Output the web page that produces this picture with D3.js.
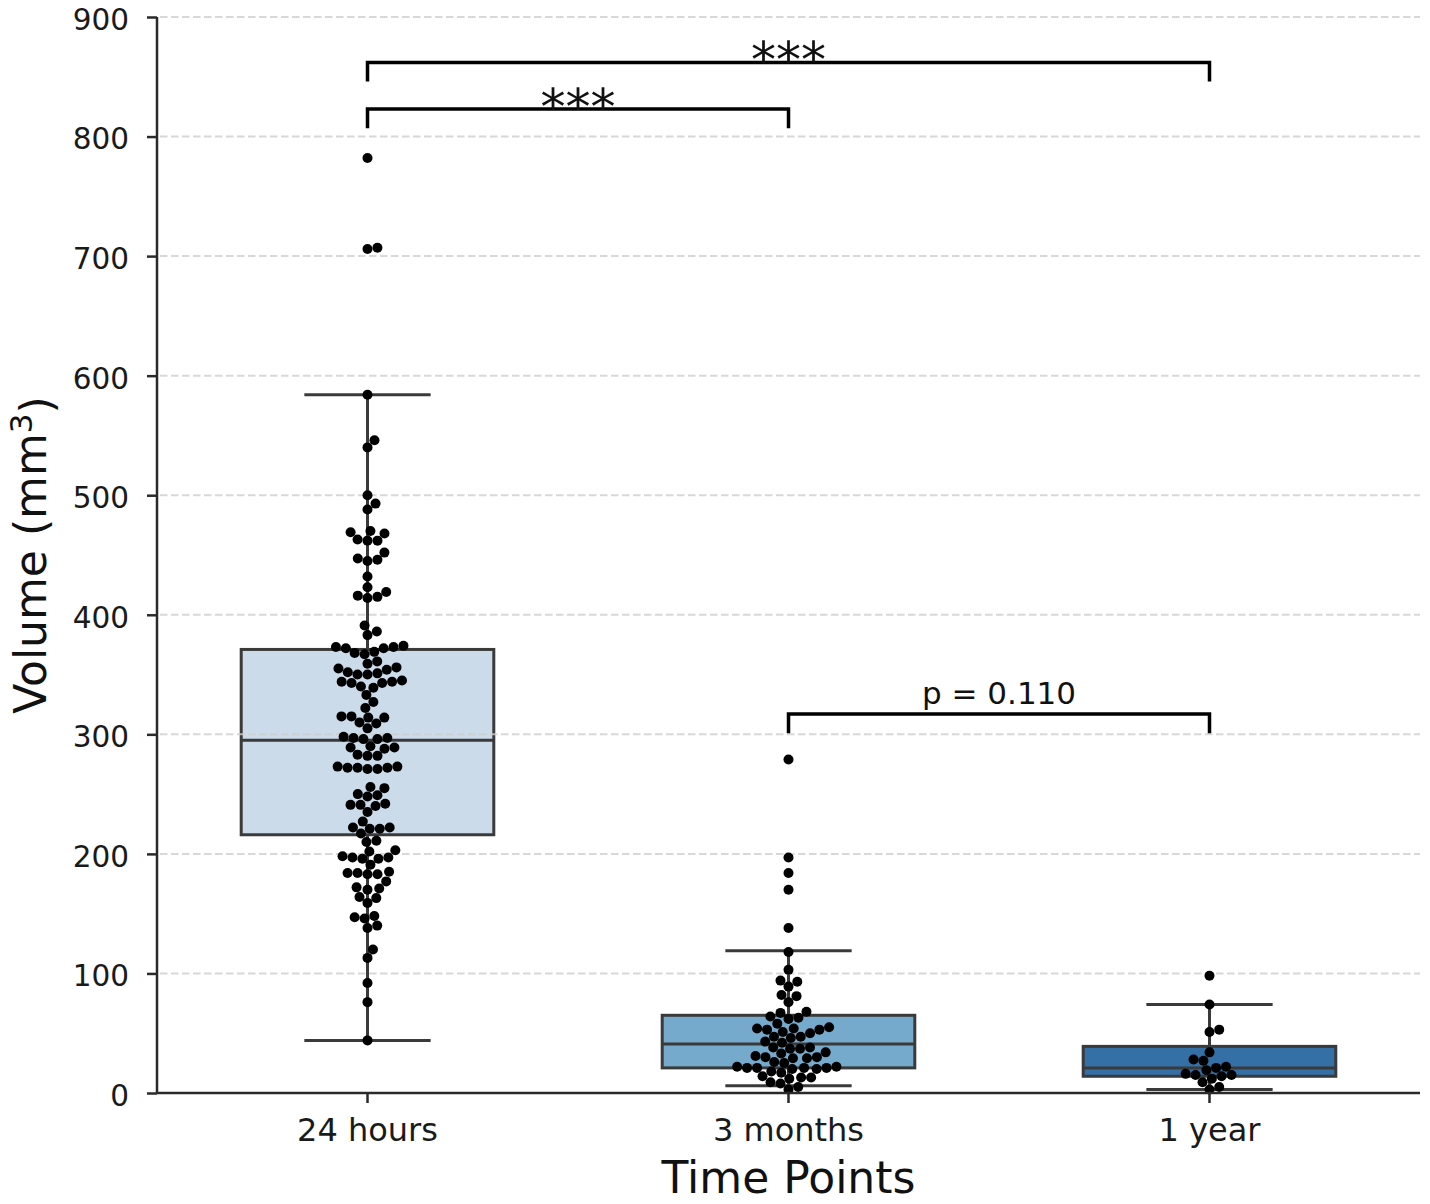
<!DOCTYPE html>
<html>
<head>
<meta charset="utf-8">
<script src="https://cdn.jsdelivr.net/npm/d3@7"></script>
<style>
  body { margin: 0; background: #fff; }
  svg { font-family: "DejaVu Sans", sans-serif; }
</style>
</head>
<body>
<div id="chart"></div>
<script>
const categories = ['24 hours', '3 months', '1 year'];

const vol24h = [
  782, 707, 706,
  584,
  546, 540,
  500, 493, 488,
  470, 469, 468, 463, 462, 462,
  452, 447, 446, 445,
  432, 423, 419, 416, 415, 414,
  391, 386, 383,
  374, 373, 373, 372, 372,
  369, 368, 367,
  361, 359,
  356, 355, 354,
  352, 351, 350, 350,
  345, 344, 344, 343, 343,
  340, 339,
  333, 327, 322,
  315, 315, 314, 314,
  310, 309,
  305,
  298, 297, 297, 296, 296,
  290, 289, 289, 288,
  283, 282, 282,
  273, 273, 272, 272, 272, 271, 271,
  256, 255,
  250, 249, 248,
  242, 241, 241, 240,
  235,
  227,
  222, 222, 221, 221,
  217,
  211, 210,
  203, 202,
  198, 197, 197, 196, 196,
  191,
  185, 184, 184, 183, 183,
  177,
  172, 171, 170,
  164, 163,
  159,
  148, 147, 146,
  140, 138,
  120, 113, 92, 76, 44
];

const vol3m = [
  279, 197, 184, 170, 138, 118,
  103, 94, 93, 89, 82, 81, 76,
  68, 67, 64, 63, 62, 58,
  55, 54, 54, 53, 53, 51, 50, 47, 47, 46, 43, 42,
  38, 38, 37, 37, 34, 33, 31, 30, 30, 29, 29, 26, 25,
  22, 22, 21, 21, 21, 21, 20, 20, 18, 17,
  14, 13, 13, 12, 9, 8, 5, 3
];

const vol1y = [98, 74, 53, 51, 34, 28, 27, 22, 21, 19, 16, 15, 15, 14, 12, 9, 5, 3];

// box summary per category (as drawn in the figure)
const boxQ1 = [216, 21, 14];
const boxMedian = [295, 41, 21];
const boxQ3 = [371, 65, 39];
const whiskerLow = [44, 6, 3];
const whiskerHigh = [584, 119, 74];
const boxColors = ['#cbdbea', '#76aacc', '#3470a6'];

const yTicks = [0, 100, 200, 300, 400, 500, 600, 700, 800, 900];

// significance brackets
const bracketFrom = [0, 0, 1];
const bracketTo = [2, 1, 2];
const bracketY = [862, 823, 317];
const bracketLabel = ['***', '***', 'p = 0.110'];

const groups = [vol24h, vol3m, vol1y];

const W = 1430, H = 1204;
const margin = {top: 17, right: 10, bottom: 111, left: 157};

const svg = d3.select('#chart').append('svg')
  .attr('width', W)
  .attr('height', H);

const x = d3.scaleBand().domain(categories).range([margin.left, W - margin.right]).padding(0);
const y = d3.scaleLinear().domain([0, 900]).range([H - margin.bottom, margin.top]);
const bw = x.bandwidth();
const cx = i => x(categories[i]) + bw / 2;

const stroke = '#3a3a3a';

// boxes and whiskers
const boxG = svg.append('g');
categories.forEach(function(c, i) {
  let g = boxG.append('g');
  let half = bw * 0.3;
  g.append('line')
    .attr('x1', cx(i)).attr('x2', cx(i))
    .attr('y1', y(whiskerHigh[i])).attr('y2', y(boxQ3[i]))
    .attr('stroke', stroke).attr('stroke-width', 3);
  g.append('line')
    .attr('x1', cx(i)).attr('x2', cx(i))
    .attr('y1', y(boxQ1[i])).attr('y2', y(whiskerLow[i]))
    .attr('stroke', stroke).attr('stroke-width', 3);
  [whiskerHigh[i], whiskerLow[i]].forEach(function(v) {
    g.append('line')
      .attr('x1', cx(i) - half / 2).attr('x2', cx(i) + half / 2)
      .attr('y1', y(v)).attr('y2', y(v))
      .attr('stroke', stroke).attr('stroke-width', 3);
  });
  g.append('rect')
    .attr('x', cx(i) - half).attr('width', half * 2)
    .attr('y', y(boxQ3[i])).attr('height', y(boxQ1[i]) - y(boxQ3[i]))
    .attr('fill', boxColors[i])
    .attr('stroke', stroke).attr('stroke-width', 3);
  g.append('line')
    .attr('x1', cx(i) - half).attr('x2', cx(i) + half)
    .attr('y1', y(boxMedian[i])).attr('y2', y(boxMedian[i]))
    .attr('stroke', stroke).attr('stroke-width', 3);
});

// dashed grid (sits over the boxes, as in the figure)
svg.append('g')
  .selectAll('line')
  .data(yTicks.filter(d => d > 0))
  .join('line')
  .attr('x1', margin.left + 3).attr('x2', W - margin.right)
  .attr('y1', d => y(d)).attr('y2', d => y(d))
  .attr('stroke', '#cfcfcf')
  .attr('stroke-width', 2)
  .attr('stroke-dasharray', '7.5,3.5')
  .attr('opacity', 0.8);

// swarm points
const r = 5;
function swarm(values, center) {
  let pts = values.map(v => ({v: v, py: y(v)})).sort((a, b) => b.py - a.py);
  let placed = [];
  pts.forEach(function(p) {
    let near = placed.filter(q => Math.abs(q.py - p.py) < 2 * r);
    let cands = [0];
    near.forEach(function(q) {
      let dy = p.py - q.py;
      let dx = Math.sqrt(4 * r * r - dy * dy);
      cands.push(q.dx + dx, q.dx - dx);
    });
    cands.sort((a, b) => Math.abs(a) - Math.abs(b));
    let pick = cands.find(c => near.every(q => Math.hypot(q.dx - c, q.py - p.py) >= 2 * r - 1e-6));
    p.dx = pick;
    placed.push(p);
  });
  return placed.map(p => ({x: center + p.dx, y: p.py}));
}

const dotG = svg.append('g');
groups.forEach(function(vals, i) {
  dotG.selectAll(null)
    .data(swarm(vals, cx(i)))
    .join('circle')
    .attr('cx', d => d.x)
    .attr('cy', d => d.y)
    .attr('r', r)
    .attr('fill', '#000');
});

// axes
const yAxis = svg.append('g')
  .attr('transform', 'translate(' + margin.left + ',0)')
  .call(d3.axisLeft(y).tickValues(yTicks).tickSize(10).tickPadding(18));
const xAxis = svg.append('g')
  .attr('transform', 'translate(0,' + (H - margin.bottom) + ')')
  .call(d3.axisBottom(x).tickSize(10).tickPadding(15).tickSizeOuter(0));

[yAxis, xAxis].forEach(function(a) {
  a.select('.domain').attr('stroke', '#2a2a2a').attr('stroke-width', 2.5);
  a.selectAll('.tick line').attr('stroke', '#2a2a2a').attr('stroke-width', 2.5);
  a.selectAll('.tick text')
    .attr('fill', '#1a1a1a')
    .style('font-family', '"DejaVu Sans", sans-serif');
});
yAxis.selectAll('.tick text').style('font-size', '29.5px').attr('dy', '0.42em');
xAxis.selectAll('.tick text').style('font-size', '32px');
yAxis.select('.domain').attr('d', 'M0,' + y(900) + 'V' + y(0));
xAxis.select('.domain').attr('d', 'M' + margin.left + ',0H' + (W - margin.right));

// axis titles
svg.append('text')
  .attr('x', (margin.left + W - margin.right) / 2)
  .attr('y', 1193)
  .attr('text-anchor', 'middle')
  .style('font-size', '44px')
  .attr('fill', '#111')
  .text('Time Points');

const yl = svg.append('text')
  .attr('transform', 'translate(46,' + (y(0) + y(900)) / 2 + ') rotate(-90)')
  .attr('text-anchor', 'middle')
  .style('font-size', '44px')
  .attr('fill', '#111');
yl.append('tspan').text('Volume (mm');
yl.append('tspan').attr('dy', '-0.45em').style('font-size', '31px').text('3');
yl.append('tspan').attr('dy', '0.45em').text(')');

// significance brackets
const leg = 16;
bracketFrom.forEach(function(f, k) {
  let x1 = cx(f), x2 = cx(bracketTo[k]);
  let yt = y(bracketY[k]), yb = y(bracketY[k] - leg);
  svg.append('path')
    .attr('d', 'M' + x1 + ',' + yb + 'V' + yt + 'H' + x2 + 'V' + yb)
    .attr('fill', 'none')
    .attr('stroke', '#000')
    .attr('stroke-width', 3.5);
  let isStars = bracketLabel[k] === '***';
  svg.append('text')
    .attr('x', (x1 + x2) / 2)
    .attr('y', isStars ? yt + 15 : yt - 10)
    .attr('text-anchor', 'middle')
    .style('font-size', isStars ? '50px' : '31px')
    .attr('fill', '#111')
    .text(bracketLabel[k]);
});
</script>
</body>
</html>
